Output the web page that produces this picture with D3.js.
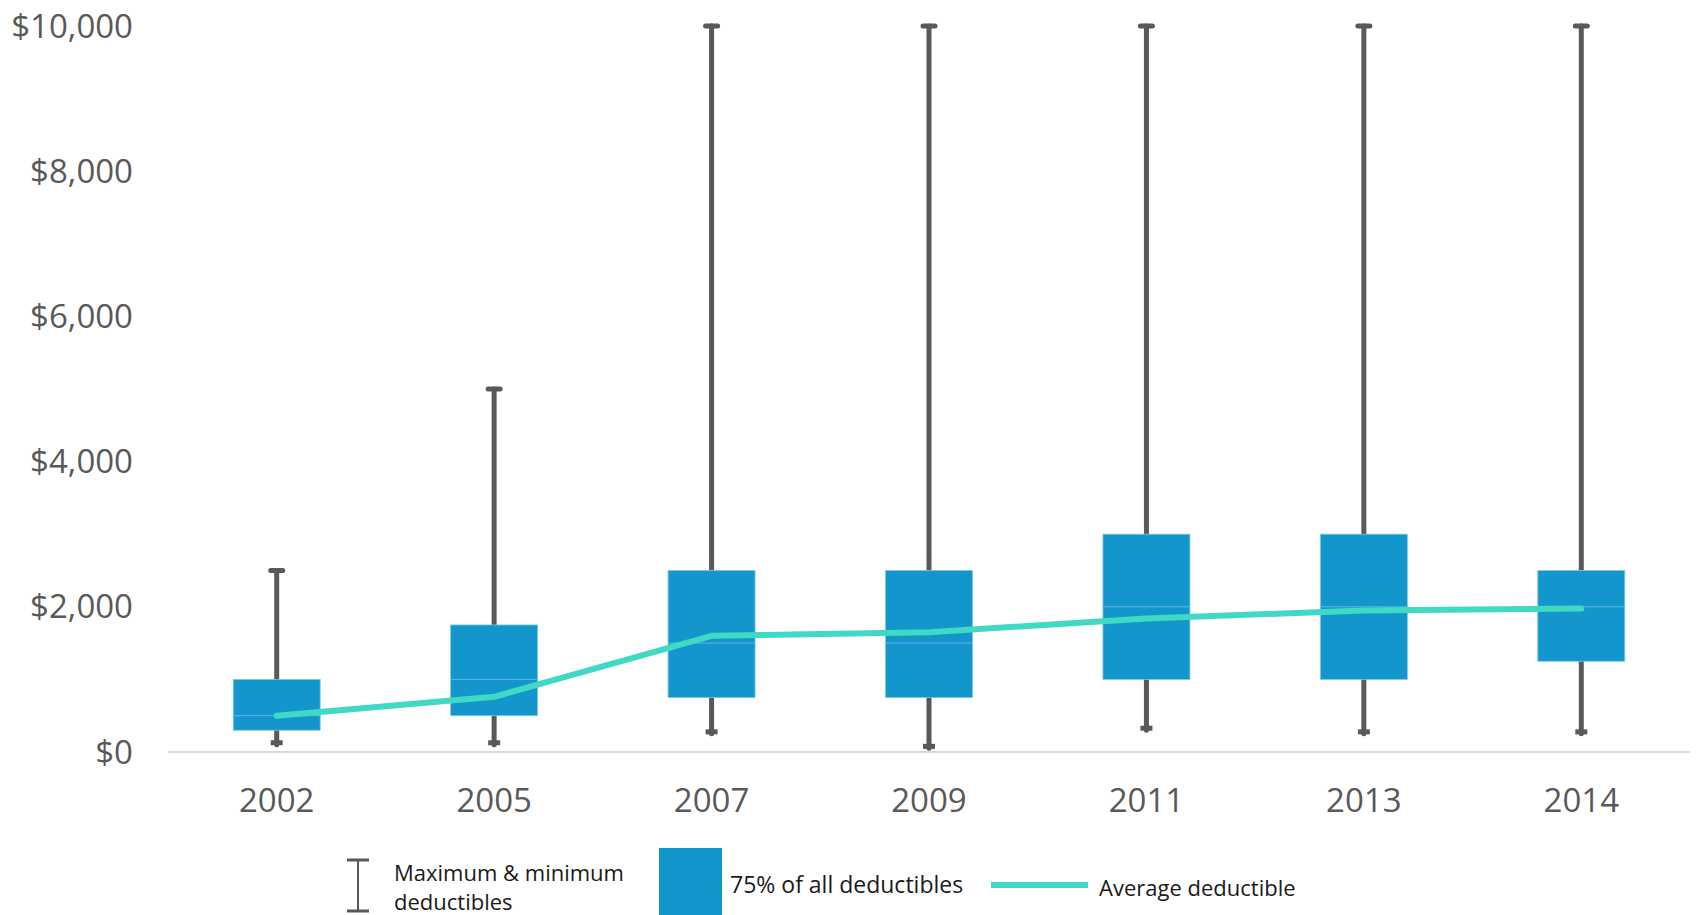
<!DOCTYPE html>
<meta charset="utf-8">
<script src="https://d3js.org/d3.v7.min.js"></script>
<style>
  body { margin: 0; background: #fff; }
  svg text { font-family: "Open Sans", Lato, sans-serif; }
</style>
<div id="chart"></div>
<script>
// data
var years = ["2002", "2005", "2007", "2009", "2011", "2013", "2014"];
var minDed = [100, 100, 250, 50, 300, 250, 250];
var maxDed = [2500, 5000, 10000, 10000, 10000, 10000, 10000];
var boxLow = [300, 500, 750, 750, 1000, 1000, 1250];
var boxHigh = [1000, 1750, 2500, 2500, 3000, 3000, 2500];
var boxMid = [500, 1000, 1500, 1500, 2000, 2000, 2000];
var avgDed = [500, 760, 1600, 1650, 1840, 1950, 1975];
var yTicks = [0, 2000, 4000, 6000, 8000, 10000];

var W = 1696, H = 915;
var svg = d3.select("#chart").append("svg")
  .attr("width", W).attr("height", H);

var x = d3.scaleBand().domain(years).range([168, 1690]).padding(0);
var y = d3.scaleLinear().domain([0, 10000]).range([752, 26]);
var cx = function(d) { return x(d) + x.bandwidth() / 2; };
var boxW = x.bandwidth() * 0.4;

var rows = years.map(function(yr, i) {
  return { year: yr, min: minDed[i], max: maxDed[i], lo: boxLow[i], hi: boxHigh[i], mid: boxMid[i], avg: avgDed[i] };
});

// y axis labels (no line)
svg.append("g").selectAll("text")
  .data(yTicks).enter().append("text")
    .attr("x", 133)
    .attr("y", function(d) { return y(d); })
    .attr("dy", "0.35em")
    .attr("text-anchor", "end")
    .attr("fill", "#595959")
    .style("font-size", "33px")
    .text(function(d) { return "$" + d3.format(",")(d); });

// baseline
svg.append("line")
  .attr("x1", 168).attr("x2", 1690)
  .attr("y1", y(0)).attr("y2", y(0))
  .attr("stroke", "#d9d9d9").attr("stroke-width", 2);

// x labels
svg.append("g").selectAll("text")
  .data(years).enter().append("text")
    .attr("x", cx)
    .attr("y", 800)
    .attr("dy", "0.35em")
    .attr("text-anchor", "middle")
    .attr("fill", "#595959")
    .style("font-size", "33px")
    .text(function(d) { return d; });

// whiskers
var wh = svg.append("g");
wh.selectAll(".whisker").data(rows).enter().append("line")
  .attr("x1", function(d) { return cx(d.year); })
  .attr("x2", function(d) { return cx(d.year); })
  .attr("y1", function(d) { return y(d.max); })
  .attr("y2", function(d) { return y(d.min); })
  .attr("stroke", "#595959").attr("stroke-width", 5).attr("stroke-linecap", "round");
wh.selectAll(".capTop").data(rows).enter().append("line")
  .attr("x1", function(d) { return cx(d.year) - 6; })
  .attr("x2", function(d) { return cx(d.year) + 6; })
  .attr("y1", function(d) { return y(d.max); })
  .attr("y2", function(d) { return y(d.max); })
  .attr("stroke", "#595959").attr("stroke-width", 5).attr("stroke-linecap", "round");
wh.selectAll(".capBot").data(rows).enter().append("line")
  .attr("x1", function(d) { return cx(d.year) - 6; })
  .attr("x2", function(d) { return cx(d.year) + 6; })
  .attr("y1", function(d) { return y(d.min) - 2; })
  .attr("y2", function(d) { return y(d.min) - 2; })
  .attr("stroke", "#595959").attr("stroke-width", 5);

// boxes
var bx = svg.append("g");
bx.selectAll("rect").data(rows).enter().append("rect")
  .attr("x", function(d) { return cx(d.year) - boxW / 2; })
  .attr("width", boxW)
  .attr("y", function(d) { return y(d.hi); })
  .attr("height", function(d) { return y(d.lo) - y(d.hi); })
  .attr("fill", "#1396cc")
  .attr("stroke", "#7cc6e6").attr("stroke-width", 0.8);
bx.selectAll(".mid").data(rows).enter().append("line")
  .attr("x1", function(d) { return cx(d.year) - boxW / 2; })
  .attr("x2", function(d) { return cx(d.year) + boxW / 2; })
  .attr("y1", function(d) { return y(d.mid); })
  .attr("y2", function(d) { return y(d.mid); })
  .attr("stroke", "#5fb8e0").attr("stroke-width", 1);

// average line
svg.append("path")
  .datum(rows)
  .attr("fill", "none")
  .attr("stroke", "#40d9c4")
  .attr("stroke-width", 6)
  .attr("stroke-linecap", "round")
  .attr("stroke-linejoin", "round")
  .attr("d", d3.line()
    .x(function(d) { return cx(d.year); })
    .y(function(d) { return y(d.avg); }));

// legend
var lg = svg.append("g");
lg.append("line").attr("x1", 358).attr("x2", 358).attr("y1", 860).attr("y2", 911)
  .attr("stroke", "#595959").attr("stroke-width", 2);
lg.append("line").attr("x1", 347).attr("x2", 369).attr("y1", 860).attr("y2", 860)
  .attr("stroke", "#595959").attr("stroke-width", 3);
lg.append("line").attr("x1", 347).attr("x2", 369).attr("y1", 911).attr("y2", 911)
  .attr("stroke", "#595959").attr("stroke-width", 3);
lg.append("text").attr("x", 394).attr("y", 881).attr("fill", "#1a1a1a")
  .style("font-size", "22px").text("Maximum & minimum");
lg.append("text").attr("x", 394).attr("y", 910).attr("fill", "#1a1a1a")
  .style("font-size", "22px").text("deductibles");
lg.append("rect").attr("x", 659).attr("y", 848).attr("width", 63).attr("height", 67)
  .attr("fill", "#1396cc");
lg.append("text").attr("x", 730).attr("y", 893).attr("fill", "#1a1a1a")
  .style("font-size", "23px").text("75% of all deductibles");
lg.append("line").attr("x1", 991).attr("x2", 1088).attr("y1", 885).attr("y2", 885)
  .attr("stroke", "#40d9c4").attr("stroke-width", 6);
lg.append("text").attr("x", 1099).attr("y", 896).attr("fill", "#1a1a1a")
  .style("font-size", "22px").text("Average deductible");
</script>
